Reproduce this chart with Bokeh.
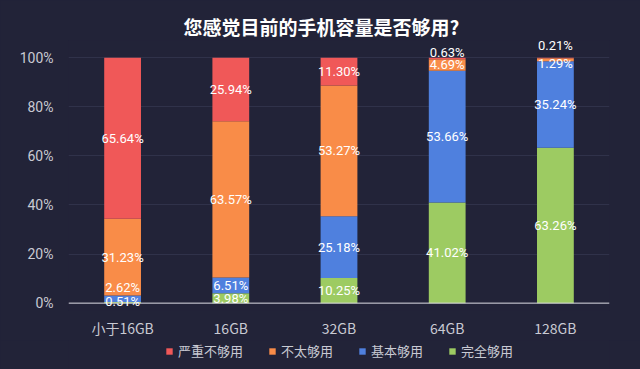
from bokeh.plotting import figure
from bokeh.layouts import column
from bokeh.models import (ColumnDataSource, FactorRange, Legend, LegendItem, LabelSet,
                          FixedTicker, PrintfTickFormatter, Range1d, Span)
from bokeh.core.properties import value
from bokeh.embed import file_html
from bokeh.resources import INLINE

# ---- data ----
categories = ["小于16GB", "16GB", "32GB", "64GB", "128GB"]
series_names = ["完全够用", "基本够用", "不太够用", "严重不够用"]  # bottom -> top
green = [0.51, 3.98, 10.25, 41.02, 63.26]
blue = [2.62, 6.51, 25.18, 53.66, 35.24]
orange = [31.23, 63.57, 53.27, 4.69, 1.29]
red = [65.64, 25.94, 11.30, 0.63, 0.21]
y_ticks = [0, 20, 40, 60, 80, 100]
title_text = "您感觉目前的手机容量是否够用?"

# ---- styles ----
BG = "#222338"
TXT = "#c9cad3"
colors = ["#9dcb62", "#4f80de", "#f98c48", "#f05858"]
# label nudges in screen px (positive = up) for crowded small segments
nudges = {("小于16GB", 1): 11, ("小于16GB", 0): 1, ("64GB", 3): 6,
          ("128GB", 3): 12, ("128GB", 2): -4}

keys = ["s0", "s1", "s2", "s3"]
src = ColumnDataSource(dict(x=categories, s0=green, s1=blue, s2=orange, s3=red))

p = figure(width=640, height=340, x_range=FactorRange(*categories, range_padding=0),
           y_range=Range1d(-3, 107), output_backend="svg", toolbar_location=None,
           min_border_left=68, min_border_right=31, min_border_top=40, min_border_bottom=28)
p.background_fill_color = BG
p.border_fill_color = BG
p.outline_line_color = None

renderers = p.vbar_stack(keys, x="x", width=0.34, color=colors, line_color=None, source=src)

p.xgrid.grid_line_color = None
p.ygrid.grid_line_color = "#30324a"
p.ygrid.grid_line_width = 1

baseline = Span(location=0, dimension="width", line_color="#d8d8de", line_width=1)
p.add_layout(baseline)

# labels
lx, ly, lt, lo = [], [], [], []
values = [green, blue, orange, red]
for i, c in enumerate(categories):
    base = 0.0
    for s in range(4):
        v = values[s][i]
        lx.append(c)
        ly.append(base + v / 2)
        lt.append(f"{v:.2f}%")
        lo.append(nudges.get((c, s), 0))
        base += v
lsrc = ColumnDataSource(dict(x=lx, y=ly, t=lt, o=lo))
labels = LabelSet(x="x", y="y", text="t", y_offset="o", source=lsrc, text_color="#ffffff",
                  text_font=value("Roboto"), text_font_size="13px", text_align="center",
                  text_baseline="middle")
p.add_layout(labels)

# title
p.title.text = title_text
p.title.text_font = "Noto Sans CJK SC"
p.title.text_font_size = "19px"
p.title.text_font_style = "bold"
p.title.text_color = "#ffffff"
p.title.align = "left"
p.title.offset = 115
p.title.standoff = 1

# axes
p.yaxis.ticker = FixedTicker(ticks=y_ticks)
p.yaxis.formatter = PrintfTickFormatter(format="%d%%")
p.yaxis.axis_line_color = None
p.yaxis.major_tick_line_color = None
p.yaxis.minor_tick_line_color = None
p.yaxis.major_tick_out = 0
p.yaxis.minor_tick_out = 0
p.yaxis.major_label_standoff = 15
p.yaxis.major_label_text_color = TXT
p.yaxis.major_label_text_font = "Roboto"
p.yaxis.major_label_text_font_size = "14px"

p.xaxis.axis_line_color = None
p.xaxis.major_tick_line_color = None
p.xaxis.minor_tick_line_color = None
p.xaxis.major_tick_out = 0
p.xaxis.minor_tick_out = 0
p.xaxis.major_label_standoff = 7
p.xaxis.major_label_text_color = TXT
p.xaxis.major_label_text_font = "Noto Sans CJK SC"
p.xaxis.major_label_text_font_size = "14px"

# legend strip below the chart
q = figure(width=640, height=29, x_range=Range1d(0, 1), y_range=Range1d(0, 1),
           output_backend="svg", toolbar_location=None, min_border=0)
q.background_fill_color = BG
q.border_fill_color = BG
q.outline_line_color = None
q.axis.visible = False
q.grid.visible = False
swatches = [q.vbar(x=[-100], top=[0], bottom=[0], width=0.1, color=c, line_color=None)
            for c in colors]
items = [LegendItem(label=series_names[s], renderers=[swatches[s]]) for s in [3, 2, 1, 0]]
legend = Legend(items=items, orientation="horizontal", location=(97, 9),
                background_fill_alpha=0, border_line_color=None,
                label_text_color=TXT, label_text_font="Noto Sans CJK SC",
                label_text_font_size="13px", glyph_width=8, glyph_height=8,
                label_standoff=5, spacing=25, padding=0, margin=0)
q.add_layout(legend)

layout = column(p, q, spacing=0)
html = file_html(layout, INLINE)
html = html.replace("<head>", "<head><style>html,body{background:%s;}</style>" % BG, 1)
open("out.html", "w").write(html)
